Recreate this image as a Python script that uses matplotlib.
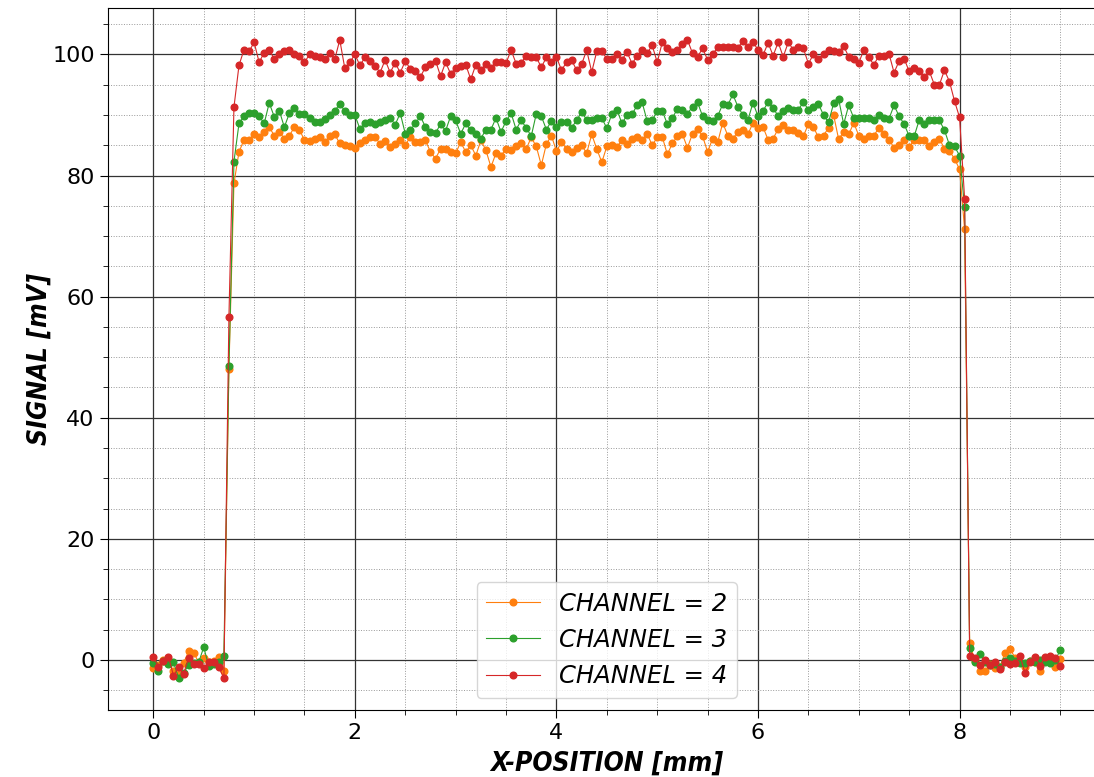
import numpy as np
import matplotlib
matplotlib.use("Agg")
import matplotlib.pyplot as plt
from matplotlib.ticker import MultipleLocator

# scan positions, 50 um steps across the strip
x_pos = np.round(np.arange(181) * 0.05, 2)

# channel 2 signal [mV]
ch2 = [-1.4, -0.8, 0.0, -0.4, -1.9, -2.3, -0.5, 1.4, 1.2, -0.4, 0.3, -0.4, -0.2, 0.5, -1.8,
       48.0,
       78.7, 83.9, 85.9, 85.9, 86.8, 86.4, 87.2, 88.0, 86.6, 87.2, 86.1, 86.6, 88.0, 87.6,
       85.8, 85.7, 86.1, 86.4, 85.5, 86.5, 86.8, 85.3, 85.1, 84.8, 84.6, 85.4, 85.9, 86.3,
       86.4, 85.2, 85.7, 84.7, 85.2, 85.9, 85.0, 86.4, 85.5, 85.5, 85.8, 83.9, 82.8, 84.4,
       84.4, 83.9, 83.7, 85.5, 83.9, 85.0, 83.3, 85.8, 84.2, 81.4, 83.7, 83.3, 84.4, 84.2,
       84.8, 85.4, 84.4, 86.3, 84.8, 81.7, 85.2, 86.6, 84.0, 85.5, 84.4, 83.9, 84.6, 85.0,
       83.7, 86.8, 84.4, 82.2, 84.8, 85.0, 84.7, 85.9, 85.2, 86.1, 86.4, 85.9, 86.9, 85.0,
       86.3, 86.4, 83.5, 85.3, 86.5, 86.8, 84.6, 86.9, 87.7, 86.5, 83.9, 86.1, 85.5, 88.7,
       86.6, 86.1, 87.2, 87.6, 86.8, 88.7, 87.9, 88.0, 85.9, 86.1, 87.7, 88.3, 87.6, 87.6,
       87.0, 86.5, 88.5, 88.0, 86.3, 86.6, 87.9, 90.0, 86.0, 87.2, 86.8, 88.7, 86.6, 86.1,
       86.5, 86.6, 87.9, 86.9, 85.9, 84.6, 85.0, 85.8, 84.7, 85.9, 85.9, 85.9, 84.8, 85.5,
       86.1, 84.4, 84.0, 82.8, 81.0, 71.1,
       2.85, -0.1, -1.8, -1.9, -0.7, -1.4, -1.1, 1.1, 1.8, 0.4, -0.3, -1.1, -0.1, -0.3,
       -1.9, 0.2, 0.0, -1.1, 0.2]

# channel 3 signal [mV]
ch3 = [-0.5, -1.9, -0.1, -0.7, -0.4, -2.9, -2.2, -0.8, -0.55, -0.4, 2.1, -1.0, -0.7, -0.4, 0.7,
       48.5,
       82.3, 88.6, 89.8, 90.3, 90.3, 89.8, 88.6, 92.0, 89.7, 90.7, 88.0, 90.3, 91.2, 90.2,
       90.1, 89.5, 88.8, 88.8, 89.4, 90.0, 90.7, 91.8, 90.7, 90.0, 90.0, 87.7, 88.7, 88.8,
       88.5, 88.8, 89.1, 89.5, 88.4, 90.3, 86.9, 87.5, 88.6, 89.8, 88.0, 87.2, 87.0, 88.5,
       87.4, 89.8, 89.1, 86.9, 88.6, 87.5, 86.8, 86.1, 87.6, 87.6, 89.5, 87.2, 89.0, 90.3,
       87.6, 89.1, 87.9, 86.5, 90.2, 89.8, 87.6, 89.0, 88.0, 88.8, 88.8, 87.9, 89.1, 90.5,
       89.2, 89.1, 89.5, 89.5, 87.8, 90.2, 90.9, 88.6, 90.0, 90.1, 91.6, 92.1, 89.0, 89.1,
       90.7, 90.7, 88.5, 89.5, 91.0, 90.8, 90.2, 91.4, 92.1, 89.8, 89.1, 89.0, 89.8, 91.8,
       91.6, 93.4, 91.4, 90.0, 89.2, 92.0, 89.8, 90.7, 92.1, 91.2, 89.8, 90.7, 91.2, 90.9,
       90.9, 92.1, 90.9, 91.4, 91.8, 90.0, 88.8, 91.9, 92.6, 88.5, 91.6, 89.5, 89.5, 89.5,
       89.5, 89.2, 90.0, 89.5, 89.4, 91.6, 89.8, 88.5, 86.5, 86.5, 89.2, 88.5, 89.2, 89.2,
       89.1, 87.5, 85.0, 84.8, 83.3, 74.8,
       1.9, -0.3, 1.0, -0.4, -0.8, -0.7, -1.1, -0.1, 0.3, -0.1, -0.55, -0.55, -0.1, -0.4,
       0.0, -0.4, -0.55, 0.0, 1.65]

# channel 4 signal [mV]
ch4 = [0.55, -1.1, -0.2, 0.55, -2.6, -1.2, -2.3, 0.3, -0.7, -0.7, -1.4, -0.3, -0.3, -1.2, -3.0,
       56.6,
       91.3, 98.2, 100.8, 100.5, 102.0, 98.7, 100.3, 100.7, 99.3, 100.1, 100.5, 100.8, 100.1,
       99.8, 98.7, 100.0, 99.8, 99.6, 99.2, 100.2, 99.2, 102.4, 97.7, 98.7, 100.0, 98.2,
       99.5, 99.0, 98.1, 97.0, 99.1, 97.0, 98.6, 97.0, 98.9, 97.6, 97.3, 96.3, 97.9, 98.5,
       99.0, 96.4, 98.7, 96.8, 97.8, 98.1, 98.3, 95.9, 98.3, 97.4, 98.5, 97.8, 98.8, 98.8,
       98.6, 100.7, 98.5, 98.6, 99.8, 99.6, 99.5, 97.9, 99.5, 98.7, 99.6, 97.4, 98.7, 99.1,
       97.4, 98.4, 100.7, 97.1, 100.5, 100.5, 99.3, 99.3, 100.1, 99.1, 100.4, 98.5, 99.7,
       100.8, 100.2, 101.5, 98.7, 102.0, 101.0, 100.4, 100.7, 101.8, 102.4, 100.2, 99.6,
       101.0, 99.1, 100.0, 101.2, 101.2, 101.2, 101.3, 101.1, 102.2, 101.2, 102.0, 100.8,
       99.9, 101.9, 99.8, 102.0, 99.6, 102.0, 100.8, 101.3, 101.0, 98.5, 100.0, 99.3, 100.1,
       100.7, 100.6, 100.4, 101.4, 99.6, 99.2, 98.6, 100.8, 99.5, 98.3, 99.8, 99.8, 100.1,
       97.0, 98.9, 99.3, 97.2, 97.8, 97.2, 96.3, 97.2, 95.0, 95.0, 97.4, 95.5, 92.3, 89.6,
       76.2,
       0.7, 0.3, -0.8, 0.0, -0.8, -0.4, -1.5, -0.4, -0.7, -0.55, 0.7, -2.2, -0.3, 0.55,
       -1.0, 0.55, 0.7, 0.3, -1.0]

channels = [2, 3, 4]
signals = [ch2, ch3, ch4]
colors = ["tab:orange", "tab:green", "tab:red"]

for s in signals:
    assert len(s) == len(x_pos), len(s)

fig = plt.figure(figsize=(10.94, 7.77), dpi=100)
ax = fig.add_axes([0.0987, 0.0862, 0.912, 0.9035])

for ch, sig, col in zip(channels, signals, colors):
    ax.plot(x_pos, sig, "-o", color=col, lw=0.8, ms=4.8,
            label="CHANNEL = %d" % ch)

ax.xaxis.set_major_locator(MultipleLocator(2))
ax.xaxis.set_minor_locator(MultipleLocator(0.5))
ax.yaxis.set_major_locator(MultipleLocator(20))
ax.yaxis.set_minor_locator(MultipleLocator(5))

ax.grid(which="major", color="#333333", lw=0.9, ls="-")
ax.grid(which="minor", color="#999999", lw=0.7, ls=":")
ax.tick_params(which="major", labelsize=16, length=6)
ax.tick_params(which="minor", length=3.5)

label_font = dict(fontsize=19, fontweight="bold", fontstyle="italic",
                  fontstretch="condensed")
ax.set_xlabel("X-POSITION [mm]", labelpad=5, **label_font)
ax.set_ylabel("SIGNAL [mV]", labelpad=0, **label_font)

ax.legend(loc="lower center", prop=dict(size=17.5, style="italic"),
          handlelength=2.2)

fig.savefig("out.png", dpi=100)
